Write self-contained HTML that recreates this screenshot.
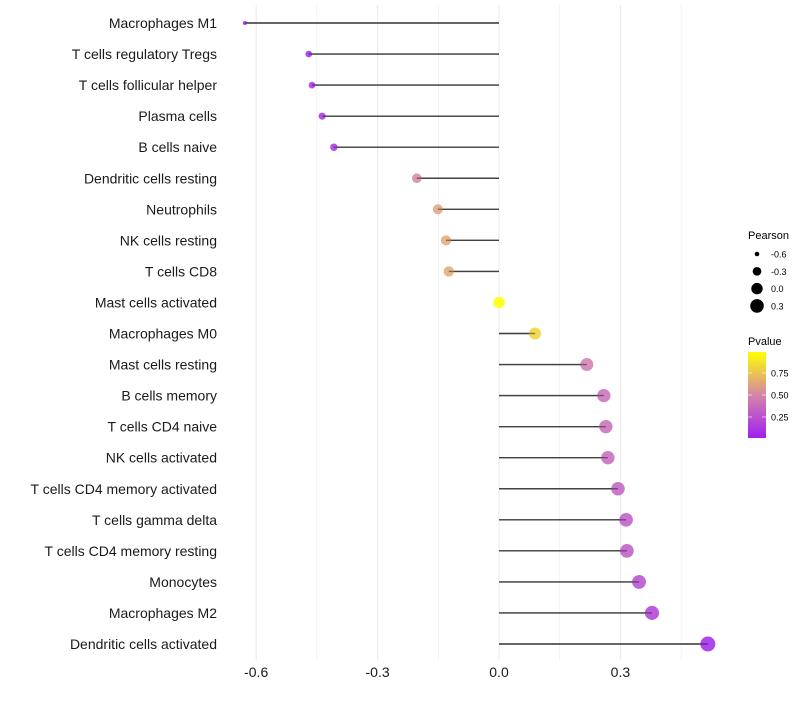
<!DOCTYPE html>
<html><head><meta charset="utf-8"><style>
body{margin:0;background:#fff;font-family:"Liberation Sans",sans-serif;}
</style></head><body>
<svg id="chart" width="800" height="700" xmlns="http://www.w3.org/2000/svg" font-family="Liberation Sans, sans-serif">
<defs><linearGradient id="pg" x1="0" y1="1" x2="0" y2="0">
<stop offset="0" stop-color="#A020F0"/><stop offset="0.5" stop-color="#D585A8"/><stop offset="1" stop-color="#FFFF00"/></linearGradient></defs>
<g id="grid"></g><g id="marks"></g><g id="labels"></g>
<g font-size="10">
<text x="748" y="239" font-size="11">Pearson</text>
<g id="sizeleg"></g>
<text x="748" y="345" font-size="11">Pvalue</text>
<rect x="748" y="352" width="18" height="86" fill="url(#pg)"/>
<g id="colleg"></g>
</g>
</svg>
<script>
const categories=["Macrophages M1","T cells regulatory  Tregs","T cells follicular helper","Plasma cells","B cells naive","Dendritic cells resting","Neutrophils","NK cells resting","T cells CD8","Mast cells activated","Macrophages M0","Mast cells resting","B cells memory","T cells CD4 naive","NK cells activated","T cells CD4 memory activated","T cells gamma delta","T cells CD4 memory resting","Monocytes","Macrophages M2","Dendritic cells activated"];
const pearson=[-0.628,-0.47,-0.462,-0.437,-0.408,-0.203,-0.151,-0.131,-0.124,0.0,0.089,0.217,0.259,0.264,0.269,0.294,0.314,0.316,0.346,0.378,0.516];
const pvalues=[0.003,0.06,0.07,0.08,0.1,0.5,0.63,0.65,0.66,1.0,0.82,0.45,0.39,0.38,0.36,0.31,0.29,0.28,0.22,0.15,0.02];
const xTicks=[-0.6,-0.3,0.0,0.3];
const gridVals=[-0.6,-0.45,-0.3,-0.15,0,0.15,0.3,0.45];
const sizeLegVals=[-0.6,-0.3,0.0,0.3];
const colLegVals=[0.25,0.5,0.75];
const NS="http://www.w3.org/2000/svg";
const X=v=>499+v*404.7;
const Y=i=>23+i*31.05;
const pmin=Math.min(...pearson),pmax=Math.max(...pearson);
const R=v=>Math.sqrt(4+(56-4)*(v-pmin)/(pmax-pmin));
function lerp(a,b,t){return a.map((x,i)=>Math.round(x+(b[i]-x)*t));}
function col(p){const c0=[160,32,240],c1=[213,133,168],c2=[255,255,0];
 const c=p<0.5?lerp(c0,c1,p/0.5):lerp(c1,c2,(p-0.5)/0.5);return `rgb(${c})`;}
function mk(tag,attrs,parent){const e=document.createElementNS(NS,tag);for(const k in attrs)e.setAttribute(k,attrs[k]);parent.appendChild(e);return e;}
const grid=document.getElementById('grid'),marks=document.getElementById('marks'),labels=document.getElementById('labels');
gridVals.forEach(v=>{const major=Math.abs(v/0.3-Math.round(v/0.3))<1e-6;
const l=mk('line',{x1:X(v),x2:X(v),y1:5,y2:660,stroke:'#ebebeb','stroke-width':major?1.1:0.6},grid);

});
categories.forEach((c,i)=>{const y=Y(i);
const t=mk('text',{x:217,y:y+5,'text-anchor':'end','font-size':14,fill:'#1a1a1a'},labels);t.textContent=c;


const s=mk('line',{x1:X(0),x2:X(pearson[i]),y1:y,y2:y,stroke:'#333','stroke-width':1.4,'stroke-opacity':0.85},marks);


const d=mk('circle',{cx:X(pearson[i]),cy:y,r:R(pearson[i]),fill:col(pvalues[i]),'fill-opacity':0.85},marks);


const s2=mk('line',{x1:X(0),x2:X(pearson[i]),y1:y,y2:y,stroke:'#333','stroke-width':1.4,'stroke-opacity':0.5},marks);

});
xTicks.forEach(v=>{const t=mk('text',{x:X(v),y:677,'text-anchor':'middle','font-size':14,fill:'#1a1a1a'},labels);t.textContent=v.toFixed(1);

});
const sl=document.getElementById('sizeleg');
sizeLegVals.forEach((v,i)=>{const y=254+i*17.3;
const c=mk('circle',{cx:757,cy:y,r:R(v),fill:'#000'},sl);


const t=mk('text',{x:771,y:y+3.5,'font-size':9},sl);t.textContent=v.toFixed(1);

});
const cl=document.getElementById('colleg');
colLegVals.forEach(v=>{const y=438-(v-0.01)/0.98*86;
mk('line',{x1:748,x2:752,y1:y,y2:y,stroke:'#fff','stroke-opacity':0.6},cl);
mk('line',{x1:762,x2:766,y1:y,y2:y,stroke:'#fff','stroke-opacity':0.6},cl);
const t=mk('text',{x:771,y:y+3.5,'font-size':9},cl);t.textContent=v.toFixed(2);

});
</script>
</body></html>
